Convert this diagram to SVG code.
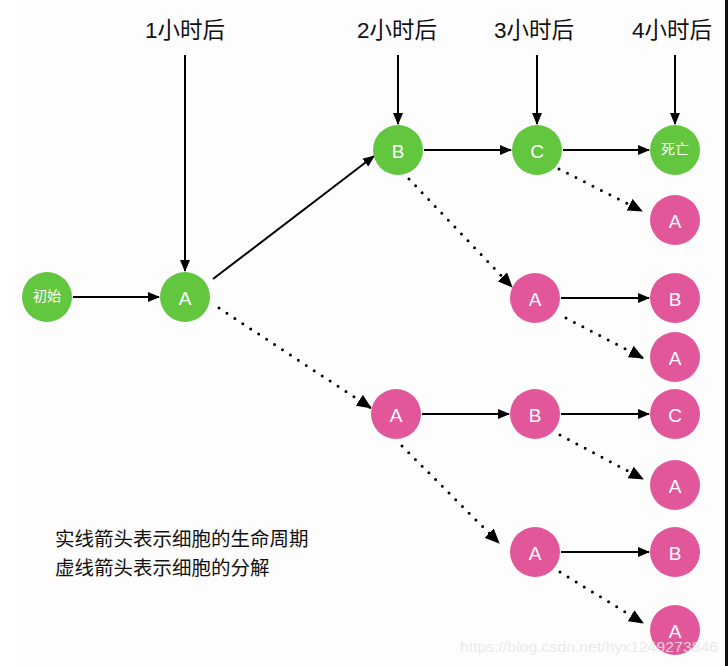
<svg xmlns="http://www.w3.org/2000/svg" width="728" height="666" viewBox="0 0 728 666">
  <style>
    .lbl { font-family: "Liberation Sans", "Noto Sans CJK SC", sans-serif; fill: #111; }
    .hdr { font-size: 22.5px; text-anchor: middle; }
    .note { font-size: 19.5px; }
    .nt { font-family: "Liberation Sans", "Noto Sans CJK SC", sans-serif; font-size: 19px; fill: #fff; text-anchor: middle; dominant-baseline: central; }
    .nt.cn { font-size: 14px; }
    .g circle { fill: #62c63f; }
    .p circle { fill: #e2579a; }
    .solid { stroke: #000; stroke-width: 2; fill: none; marker-end: url(#ah); }
    .dot { stroke: #000; stroke-width: 3; fill: none; stroke-linecap: round; stroke-dasharray: 0 9.5; marker-end: url(#ah2); }
  </style>
  <defs>
    <marker id="ah" viewBox="0 0 12 10" refX="11" refY="5" markerWidth="12" markerHeight="10" markerUnits="userSpaceOnUse" orient="auto">
      <path d="M0,0 L12,5 L0,10 Z" fill="#000"/>
    </marker>
    <marker id="ah2" viewBox="0 0 15 13" refX="14" refY="6.5" markerWidth="15" markerHeight="13" markerUnits="userSpaceOnUse" orient="auto">
      <path d="M0,0 L15,6.5 L0,13 Z" fill="#000"/>
    </marker>
  </defs>

  <rect width="728" height="666" fill="#fff"/>
  <rect x="16" y="0" width="709" height="666" fill="#fdfdfd"/>
  <rect x="725" y="0" width="3" height="666" fill="#111"/>

  <!-- time headers -->
  <g id="headers">
    <text class="lbl hdr" x="185" y="38">1小时后</text>
    <text class="lbl hdr" x="397" y="38">2小时后</text>
    <text class="lbl hdr" x="534" y="38">3小时后</text>
    <text class="lbl hdr" x="672" y="38">4小时后</text>
  </g>

  <g id="connectors">
    <!-- time markers -->
    <line class="solid" x1="185" y1="55" x2="185" y2="271"/>
    <line class="solid" x1="398" y1="55" x2="398" y2="124"/>
    <line class="solid" x1="537" y1="55" x2="537" y2="124"/>
    <line class="solid" x1="675" y1="55" x2="675" y2="124"/>
    <!-- life cycle -->
    <line class="solid" x1="73" y1="297" x2="159" y2="297"/>
    <line class="solid" x1="213" y1="279" x2="374" y2="156"/>
    <line class="solid" x1="424" y1="150" x2="511" y2="150"/>
    <line class="solid" x1="563" y1="150" x2="649" y2="150"/>
    <line class="solid" x1="561" y1="298" x2="649" y2="298"/>
    <line class="solid" x1="422" y1="414" x2="509" y2="414"/>
    <line class="solid" x1="561" y1="414" x2="649" y2="414"/>
    <line class="solid" x1="561" y1="552" x2="649" y2="552"/>
    <!-- division -->
    <line class="dot" x1="559" y1="169" x2="642" y2="211"/>
    <line class="dot" x1="409" y1="179" x2="512" y2="287"/>
    <line class="dot" x1="566" y1="318" x2="643" y2="358"/>
    <line class="dot" x1="219" y1="308" x2="371" y2="408"/>
    <line class="dot" x1="560" y1="435" x2="643" y2="479"/>
    <line class="dot" x1="402" y1="446" x2="499" y2="543"/>
    <line class="dot" x1="560" y1="572" x2="643" y2="623"/>
  </g>

  <g id="n-start" class="g"><circle cx="47" cy="297" r="25"/><text class="nt cn" x="47" y="296">初始</text></g>
  <g id="n-a1" class="g"><circle cx="185" cy="297" r="25"/><text class="nt" x="185" y="298">A</text></g>
  <g id="n-b1" class="g"><circle cx="398" cy="150" r="25"/><text class="nt" x="398" y="151">B</text></g>
  <g id="n-c1" class="g"><circle cx="537" cy="150" r="25"/><text class="nt" x="537" y="151">C</text></g>
  <g id="n-dead" class="g"><circle cx="675" cy="150" r="25"/><text class="nt cn" x="675" y="149">死亡</text></g>

  <g id="n-a-c" class="p"><circle cx="675" cy="220" r="25"/><text class="nt" x="675" y="221">A</text></g>
  <g id="n-a-b" class="p"><circle cx="535" cy="298" r="25"/><text class="nt" x="535" y="299">A</text></g>
  <g id="n-b-ab" class="p"><circle cx="675" cy="298" r="25"/><text class="nt" x="675" y="299">B</text></g>
  <g id="n-a-ab" class="p"><circle cx="675" cy="357" r="25"/><text class="nt" x="675" y="358">A</text></g>
  <g id="n-a2" class="p"><circle cx="396" cy="414" r="25"/><text class="nt" x="396" y="415">A</text></g>
  <g id="n-b2" class="p"><circle cx="535" cy="414" r="25"/><text class="nt" x="535" y="415">B</text></g>
  <g id="n-c2" class="p"><circle cx="675" cy="414" r="25"/><text class="nt" x="675" y="415">C</text></g>
  <g id="n-a-b2" class="p"><circle cx="675" cy="485" r="25"/><text class="nt" x="675" y="486">A</text></g>
  <g id="n-a3" class="p"><circle cx="535" cy="552" r="25"/><text class="nt" x="535" y="553">A</text></g>
  <g id="n-b3" class="p"><circle cx="675" cy="552" r="25"/><text class="nt" x="675" y="553">B</text></g>
  <g id="n-a4" class="p"><circle cx="675" cy="630" r="25"/><text class="nt" x="675" y="631">A</text></g>

  <g id="legend">
    <text class="lbl note" x="55" y="546">实线箭头表示细胞的生命周期</text>
    <text class="lbl note" x="55" y="575">虚线箭头表示细胞的分解</text>
  </g>

  <text x="460" y="652" font-family="Liberation Sans, sans-serif" font-size="15" fill="#e6e6e6" fill-opacity="0.85" textLength="258" lengthAdjust="spacingAndGlyphs">https://blog.csdn.net/hyx1249273846</text>
</svg>
